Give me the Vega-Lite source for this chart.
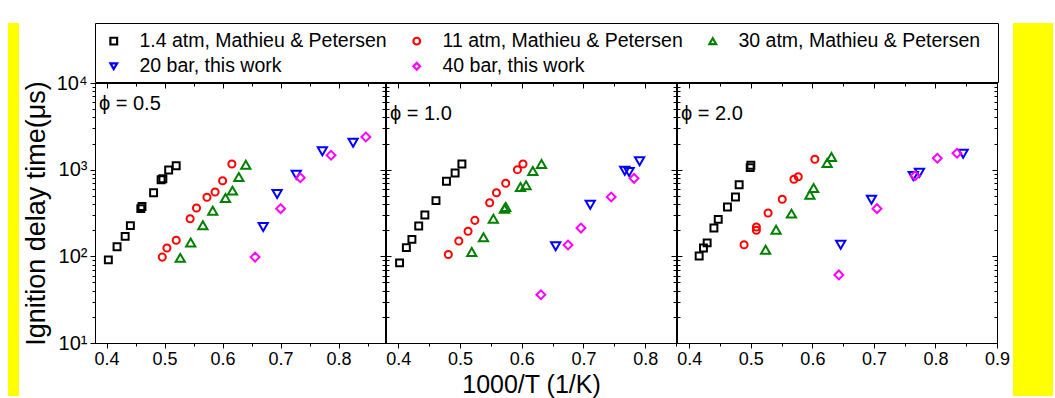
{
  "$schema": "https://vega.github.io/schema/vega-lite/v6.json",
  "background": "white",
  "padding": {"left": 8, "top": 22, "right": 0, "bottom": 0},
  "datasets": {
    "pts": [
      {"p": "0.5", "s": "1.4 atm, Mathieu & Petersen", "x": 0.403, "y": 91},
      {"p": "0.5", "s": "1.4 atm, Mathieu & Petersen", "x": 0.418, "y": 129},
      {"p": "0.5", "s": "1.4 atm, Mathieu & Petersen", "x": 0.432, "y": 170},
      {"p": "0.5", "s": "1.4 atm, Mathieu & Petersen", "x": 0.441, "y": 226},
      {"p": "0.5", "s": "1.4 atm, Mathieu & Petersen", "x": 0.459, "y": 355},
      {"p": "0.5", "s": "1.4 atm, Mathieu & Petersen", "x": 0.461, "y": 375},
      {"p": "0.5", "s": "1.4 atm, Mathieu & Petersen", "x": 0.481, "y": 542},
      {"p": "0.5", "s": "1.4 atm, Mathieu & Petersen", "x": 0.494, "y": 765},
      {"p": "0.5", "s": "1.4 atm, Mathieu & Petersen", "x": 0.497, "y": 787},
      {"p": "0.5", "s": "1.4 atm, Mathieu & Petersen", "x": 0.507, "y": 991},
      {"p": "0.5", "s": "1.4 atm, Mathieu & Petersen", "x": 0.520, "y": 1112},
      {"p": "0.5", "s": "11 atm, Mathieu & Petersen", "x": 0.496, "y": 98},
      {"p": "0.5", "s": "11 atm, Mathieu & Petersen", "x": 0.504, "y": 125},
      {"p": "0.5", "s": "11 atm, Mathieu & Petersen", "x": 0.520, "y": 153},
      {"p": "0.5", "s": "11 atm, Mathieu & Petersen", "x": 0.544, "y": 272},
      {"p": "0.5", "s": "11 atm, Mathieu & Petersen", "x": 0.555, "y": 361},
      {"p": "0.5", "s": "11 atm, Mathieu & Petersen", "x": 0.573, "y": 480},
      {"p": "0.5", "s": "11 atm, Mathieu & Petersen", "x": 0.587, "y": 552},
      {"p": "0.5", "s": "11 atm, Mathieu & Petersen", "x": 0.600, "y": 746},
      {"p": "0.5", "s": "11 atm, Mathieu & Petersen", "x": 0.616, "y": 1161},
      {"p": "0.5", "s": "30 atm, Mathieu & Petersen", "x": 0.527, "y": 96},
      {"p": "0.5", "s": "30 atm, Mathieu & Petersen", "x": 0.545, "y": 144},
      {"p": "0.5", "s": "30 atm, Mathieu & Petersen", "x": 0.566, "y": 228},
      {"p": "0.5", "s": "30 atm, Mathieu & Petersen", "x": 0.583, "y": 336},
      {"p": "0.5", "s": "30 atm, Mathieu & Petersen", "x": 0.605, "y": 471},
      {"p": "0.5", "s": "30 atm, Mathieu & Petersen", "x": 0.617, "y": 573},
      {"p": "0.5", "s": "30 atm, Mathieu & Petersen", "x": 0.628, "y": 822},
      {"p": "0.5", "s": "30 atm, Mathieu & Petersen", "x": 0.640, "y": 1141},
      {"p": "0.5", "s": "20 bar, this work", "x": 0.670, "y": 218},
      {"p": "0.5", "s": "20 bar, this work", "x": 0.694, "y": 524},
      {"p": "0.5", "s": "20 bar, this work", "x": 0.727, "y": 875},
      {"p": "0.5", "s": "20 bar, this work", "x": 0.772, "y": 1629},
      {"p": "0.5", "s": "20 bar, this work", "x": 0.825, "y": 2045},
      {"p": "0.5", "s": "40 bar, this work", "x": 0.656, "y": 98},
      {"p": "0.5", "s": "40 bar, this work", "x": 0.700, "y": 355},
      {"p": "0.5", "s": "40 bar, this work", "x": 0.734, "y": 807},
      {"p": "0.5", "s": "40 bar, this work", "x": 0.787, "y": 1466},
      {"p": "0.5", "s": "40 bar, this work", "x": 0.847, "y": 2384},
      {"p": "1.0", "s": "1.4 atm, Mathieu & Petersen", "x": 0.402, "y": 84},
      {"p": "1.0", "s": "1.4 atm, Mathieu & Petersen", "x": 0.413, "y": 126},
      {"p": "1.0", "s": "1.4 atm, Mathieu & Petersen", "x": 0.422, "y": 157},
      {"p": "1.0", "s": "1.4 atm, Mathieu & Petersen", "x": 0.433, "y": 224},
      {"p": "1.0", "s": "1.4 atm, Mathieu & Petersen", "x": 0.443, "y": 300},
      {"p": "1.0", "s": "1.4 atm, Mathieu & Petersen", "x": 0.461, "y": 439},
      {"p": "1.0", "s": "1.4 atm, Mathieu & Petersen", "x": 0.478, "y": 734},
      {"p": "1.0", "s": "1.4 atm, Mathieu & Petersen", "x": 0.492, "y": 916},
      {"p": "1.0", "s": "1.4 atm, Mathieu & Petersen", "x": 0.503, "y": 1161},
      {"p": "1.0", "s": "11 atm, Mathieu & Petersen", "x": 0.481, "y": 105},
      {"p": "1.0", "s": "11 atm, Mathieu & Petersen", "x": 0.498, "y": 150},
      {"p": "1.0", "s": "11 atm, Mathieu & Petersen", "x": 0.513, "y": 195},
      {"p": "1.0", "s": "11 atm, Mathieu & Petersen", "x": 0.524, "y": 260},
      {"p": "1.0", "s": "11 atm, Mathieu & Petersen", "x": 0.548, "y": 416},
      {"p": "1.0", "s": "11 atm, Mathieu & Petersen", "x": 0.559, "y": 542},
      {"p": "1.0", "s": "11 atm, Mathieu & Petersen", "x": 0.574, "y": 697},
      {"p": "1.0", "s": "11 atm, Mathieu & Petersen", "x": 0.593, "y": 1000},
      {"p": "1.0", "s": "11 atm, Mathieu & Petersen", "x": 0.602, "y": 1161},
      {"p": "1.0", "s": "30 atm, Mathieu & Petersen", "x": 0.519, "y": 112},
      {"p": "1.0", "s": "30 atm, Mathieu & Petersen", "x": 0.538, "y": 166},
      {"p": "1.0", "s": "30 atm, Mathieu & Petersen", "x": 0.554, "y": 272},
      {"p": "1.0", "s": "30 atm, Mathieu & Petersen", "x": 0.572, "y": 355},
      {"p": "1.0", "s": "30 atm, Mathieu & Petersen", "x": 0.574, "y": 372},
      {"p": "1.0", "s": "30 atm, Mathieu & Petersen", "x": 0.598, "y": 631},
      {"p": "1.0", "s": "30 atm, Mathieu & Petersen", "x": 0.607, "y": 660},
      {"p": "1.0", "s": "30 atm, Mathieu & Petersen", "x": 0.618, "y": 966},
      {"p": "1.0", "s": "30 atm, Mathieu & Petersen", "x": 0.632, "y": 1161},
      {"p": "1.0", "s": "20 bar, this work", "x": 0.655, "y": 131},
      {"p": "1.0", "s": "20 bar, this work", "x": 0.711, "y": 394},
      {"p": "1.0", "s": "20 bar, this work", "x": 0.767, "y": 973},
      {"p": "1.0", "s": "20 bar, this work", "x": 0.774, "y": 940},
      {"p": "1.0", "s": "20 bar, this work", "x": 0.791, "y": 1248},
      {"p": "1.0", "s": "40 bar, this work", "x": 0.631, "y": 36},
      {"p": "1.0", "s": "40 bar, this work", "x": 0.675, "y": 135},
      {"p": "1.0", "s": "40 bar, this work", "x": 0.696, "y": 212},
      {"p": "1.0", "s": "40 bar, this work", "x": 0.745, "y": 484},
      {"p": "1.0", "s": "40 bar, this work", "x": 0.782, "y": 794},
      {"p": "2.0", "s": "1.4 atm, Mathieu & Petersen", "x": 0.416, "y": 101},
      {"p": "2.0", "s": "1.4 atm, Mathieu & Petersen", "x": 0.423, "y": 125},
      {"p": "2.0", "s": "1.4 atm, Mathieu & Petersen", "x": 0.429, "y": 143},
      {"p": "2.0", "s": "1.4 atm, Mathieu & Petersen", "x": 0.440, "y": 212},
      {"p": "2.0", "s": "1.4 atm, Mathieu & Petersen", "x": 0.447, "y": 267},
      {"p": "2.0", "s": "1.4 atm, Mathieu & Petersen", "x": 0.462, "y": 371},
      {"p": "2.0", "s": "1.4 atm, Mathieu & Petersen", "x": 0.475, "y": 484},
      {"p": "2.0", "s": "1.4 atm, Mathieu & Petersen", "x": 0.481, "y": 671},
      {"p": "2.0", "s": "1.4 atm, Mathieu & Petersen", "x": 0.499, "y": 1055},
      {"p": "2.0", "s": "1.4 atm, Mathieu & Petersen", "x": 0.500, "y": 1122},
      {"p": "2.0", "s": "11 atm, Mathieu & Petersen", "x": 0.489, "y": 136},
      {"p": "2.0", "s": "11 atm, Mathieu & Petersen", "x": 0.509, "y": 200},
      {"p": "2.0", "s": "11 atm, Mathieu & Petersen", "x": 0.509, "y": 218},
      {"p": "2.0", "s": "11 atm, Mathieu & Petersen", "x": 0.528, "y": 316},
      {"p": "2.0", "s": "11 atm, Mathieu & Petersen", "x": 0.551, "y": 455},
      {"p": "2.0", "s": "11 atm, Mathieu & Petersen", "x": 0.570, "y": 774},
      {"p": "2.0", "s": "11 atm, Mathieu & Petersen", "x": 0.577, "y": 830},
      {"p": "2.0", "s": "11 atm, Mathieu & Petersen", "x": 0.604, "y": 1318},
      {"p": "2.0", "s": "30 atm, Mathieu & Petersen", "x": 0.524, "y": 119},
      {"p": "2.0", "s": "30 atm, Mathieu & Petersen", "x": 0.541, "y": 203},
      {"p": "2.0", "s": "30 atm, Mathieu & Petersen", "x": 0.566, "y": 311},
      {"p": "2.0", "s": "30 atm, Mathieu & Petersen", "x": 0.596, "y": 514},
      {"p": "2.0", "s": "30 atm, Mathieu & Petersen", "x": 0.602, "y": 614},
      {"p": "2.0", "s": "30 atm, Mathieu & Petersen", "x": 0.624, "y": 1194},
      {"p": "2.0", "s": "30 atm, Mathieu & Petersen", "x": 0.631, "y": 1400},
      {"p": "2.0", "s": "20 bar, this work", "x": 0.646, "y": 136},
      {"p": "2.0", "s": "20 bar, this work", "x": 0.696, "y": 450},
      {"p": "2.0", "s": "20 bar, this work", "x": 0.764, "y": 845},
      {"p": "2.0", "s": "20 bar, this work", "x": 0.774, "y": 922},
      {"p": "2.0", "s": "20 bar, this work", "x": 0.845, "y": 1527},
      {"p": "2.0", "s": "40 bar, this work", "x": 0.643, "y": 61},
      {"p": "2.0", "s": "40 bar, this work", "x": 0.705, "y": 355},
      {"p": "2.0", "s": "40 bar, this work", "x": 0.767, "y": 851},
      {"p": "2.0", "s": "40 bar, this work", "x": 0.803, "y": 1353},
      {"p": "2.0", "s": "40 bar, this work", "x": 0.835, "y": 1545}
    ]
  },
  "spacing": 2,
  "hconcat": [
    {
      "data": {"values": []},
      "mark": "point",
      "encoding": {},
      "width": 11,
      "height": 373,
      "view": {"fill": "#ffff00", "stroke": null}
    },
    {
      "spacing": -13,
      "resolve": {"legend": {"color": "independent", "shape": "independent"}},
      "vconcat": [
        {
          "data": {"name": "pts"},
          "width": 903,
          "height": 59,
          "view": {"stroke": "black", "strokeWidth": 1, "fill": "white"},
          "mark": {"type": "point", "filled": false, "opacity": 0, "size": 40, "strokeWidth": 2},
          "encoding": {
            "color": {
              "field": "s", "type": "nominal",
              "scale": {"domain": ["1.4 atm, Mathieu & Petersen", "11 atm, Mathieu & Petersen", "30 atm, Mathieu & Petersen", "20 bar, this work", "40 bar, this work"], "range": ["#000000", "#ff0000", "#008000", "#0000ff", "#ff00ff"]},
              "legend": {"orient": "none", "legendX": 9, "legendY": 8, "direction": "horizontal", "columns": 3, "title": null, "padding": 0, "symbolSize": 45, "symbolStrokeWidth": 2.2, "symbolFillColor": "transparent", "labelFontSize": 19.5, "labelOffset": 16, "labelLimit": 400, "columnPadding": 20, "rowPadding": 4.5, "labelColor": "black"}
            },
            "shape": {
              "field": "s", "type": "nominal",
              "scale": {"domain": ["1.4 atm, Mathieu & Petersen", "11 atm, Mathieu & Petersen", "30 atm, Mathieu & Petersen", "20 bar, this work", "40 bar, this work"], "range": ["square", "circle", "triangle-up", "triangle-down", "diamond"]},
              "legend": {"orient": "none", "legendX": 9, "legendY": 8, "direction": "horizontal", "columns": 3, "title": null, "padding": 0, "symbolSize": 45, "symbolStrokeWidth": 2.2, "symbolFillColor": "transparent", "labelFontSize": 19.5, "labelOffset": 16, "labelLimit": 400, "columnPadding": 20, "rowPadding": 4.5, "labelColor": "black"}
            }
          }
        },
        {
          "spacing": -1,
          "resolve": {"scale": {"x": "independent"}},
          "hconcat": [
            {
              "width": 290, "height": 260,
              "title": {"text": "ϕ = 0.5", "frame": "group", "anchor": "start", "offset": -41, "dx": 4, "fontSize": 20, "fontWeight": "normal", "color": "black"},
              "data": {"name": "pts"},
              "transform": [{"filter": "datum.p == '0.5'"}],
              "resolve": {"axis": {"x": "independent", "y": "independent"}},
              "layer": [
                {
                  "mark": {"type": "point", "filled": false, "strokeWidth": 2, "opacity": 1},
                  "encoding": {
                    "x": {"field": "x", "type": "quantitative", "scale": {"domain": [0.38, 0.88], "nice": false, "zero": false},
                      "axis": {"orient": "bottom", "values": [0.4, 0.5, 0.6, 0.7, 0.8], "format": ".1f", "tickSize": 5, "labelFontSize": 18, "labelPadding": 2, "title": null}},
                    "y": {"field": "y", "type": "quantitative", "scale": {"type": "log", "domain": [10, 10000], "nice": false},
                      "axis": {"orient": "left", "values": [10, 100, 1000, 10000], "tickSize": 5, "labelExpr": "datum.value == 10 ? '10¹' : datum.value == 100 ? '10²' : datum.value == 1000 ? '10³' : '10⁴'", "labelFontSize": 20, "labelPadding": 3, "title": "Ignition delay time(μs)", "titleFontSize": 27, "titlePadding": 6}},
                    "color": {"field": "s", "type": "nominal", "scale": {"domain": ["1.4 atm, Mathieu & Petersen", "11 atm, Mathieu & Petersen", "30 atm, Mathieu & Petersen", "20 bar, this work", "40 bar, this work"], "range": ["#000000", "#ff0000", "#008000", "#0000ff", "#ff00ff"]}, "legend": null},
                    "shape": {"field": "s", "type": "nominal", "scale": {"domain": ["1.4 atm, Mathieu & Petersen", "11 atm, Mathieu & Petersen", "30 atm, Mathieu & Petersen", "20 bar, this work", "40 bar, this work"], "range": ["square", "circle", "triangle-up", "triangle-down", "diamond"]}, "legend": null},
                    "size": {"condition": [{"test": "datum.s == '30 atm, Mathieu & Petersen' || datum.s == '20 bar, this work'", "value": 85}, {"test": "datum.s == '40 bar, this work'", "value": 78}, {"test": "datum.s == '11 atm, Mathieu & Petersen'", "value": 50}], "value": 48}
                  }
                },
                {
                  "mark": {"type": "point", "opacity": 0},
                  "encoding": {
                    "x": {"field": "x", "type": "quantitative", "axis": {"orient": "bottom", "values": [0.45, 0.55, 0.65, 0.75, 0.85], "tickSize": 3, "labels": false, "domain": false, "title": null}},
                    "y": {"field": "y", "type": "quantitative", "axis": {"orient": "left", "values": [20, 30, 40, 50, 60, 70, 80, 90, 200, 300, 400, 500, 600, 700, 800, 900, 2000, 3000, 4000, 5000, 6000, 7000, 8000, 9000], "tickSize": 3, "labels": false, "domain": false, "title": null}}
                  }
                },
                {
                  "mark": {"type": "point", "opacity": 0},
                  "encoding": {
                    "x": {"field": "x", "type": "quantitative", "axis": {"orient": "top", "values": [0.4, 0.5, 0.6, 0.7, 0.8], "tickSize": -5, "labels": false, "title": null}},
                    "y": {"field": "y", "type": "quantitative", "axis": {"orient": "right", "values": [10, 100, 1000, 10000], "tickSize": -5, "labels": false, "title": null}}
                  }
                },
                {
                  "mark": {"type": "point", "opacity": 0},
                  "encoding": {
                    "x": {"field": "x", "type": "quantitative", "axis": {"orient": "top", "values": [0.45, 0.55, 0.65, 0.75, 0.85], "tickSize": -3, "labels": false, "domain": false, "title": null}},
                    "y": {"field": "y", "type": "quantitative", "axis": {"orient": "right", "values": [20, 30, 40, 50, 60, 70, 80, 90, 200, 300, 400, 500, 600, 700, 800, 900, 2000, 3000, 4000, 5000, 6000, 7000, 8000, 9000], "tickSize": -3, "labels": false, "domain": false, "title": null}}
                  }
                }
              ]
            },
            {
              "width": 290, "height": 260,
              "title": {"text": "ϕ = 1.0", "frame": "group", "anchor": "start", "offset": -41, "dx": 4, "fontSize": 20, "fontWeight": "normal", "color": "black"},
              "data": {"name": "pts"},
              "transform": [{"filter": "datum.p == '1.0'"}],
              "resolve": {"axis": {"x": "independent", "y": "independent"}},
              "layer": [
                {
                  "mark": {"type": "point", "filled": false, "strokeWidth": 2, "opacity": 1},
                  "encoding": {
                    "x": {"field": "x", "type": "quantitative", "scale": {"domain": [0.38, 0.85], "nice": false, "zero": false},
                      "axis": {"orient": "bottom", "values": [0.4, 0.5, 0.6, 0.7, 0.8], "format": ".1f", "tickSize": 5, "labelFontSize": 18, "labelPadding": 2, "title": "1000/T (1/K)", "titleFontSize": 25, "titlePadding": 4}},
                    "y": {"field": "y", "type": "quantitative", "scale": {"type": "log", "domain": [10, 10000], "nice": false},
                      "axis": {"orient": "left", "values": [10, 100, 1000, 10000], "tickSize": -5, "labels": false, "title": null}},
                    "color": {"field": "s", "type": "nominal", "scale": {"domain": ["1.4 atm, Mathieu & Petersen", "11 atm, Mathieu & Petersen", "30 atm, Mathieu & Petersen", "20 bar, this work", "40 bar, this work"], "range": ["#000000", "#ff0000", "#008000", "#0000ff", "#ff00ff"]}, "legend": null},
                    "shape": {"field": "s", "type": "nominal", "scale": {"domain": ["1.4 atm, Mathieu & Petersen", "11 atm, Mathieu & Petersen", "30 atm, Mathieu & Petersen", "20 bar, this work", "40 bar, this work"], "range": ["square", "circle", "triangle-up", "triangle-down", "diamond"]}, "legend": null},
                    "size": {"condition": [{"test": "datum.s == '30 atm, Mathieu & Petersen' || datum.s == '20 bar, this work'", "value": 85}, {"test": "datum.s == '40 bar, this work'", "value": 78}, {"test": "datum.s == '11 atm, Mathieu & Petersen'", "value": 50}], "value": 48}
                  }
                },
                {
                  "mark": {"type": "point", "opacity": 0},
                  "encoding": {
                    "x": {"field": "x", "type": "quantitative", "axis": {"orient": "bottom", "values": [0.45, 0.55, 0.65, 0.75, 0.85], "tickSize": 3, "labels": false, "domain": false, "title": null}},
                    "y": {"field": "y", "type": "quantitative", "axis": {"orient": "left", "values": [20, 30, 40, 50, 60, 70, 80, 90, 200, 300, 400, 500, 600, 700, 800, 900, 2000, 3000, 4000, 5000, 6000, 7000, 8000, 9000], "tickSize": -3, "labels": false, "domain": false, "title": null}}
                  }
                },
                {
                  "mark": {"type": "point", "opacity": 0},
                  "encoding": {
                    "x": {"field": "x", "type": "quantitative", "axis": {"orient": "top", "values": [0.4, 0.5, 0.6, 0.7, 0.8], "tickSize": -5, "labels": false, "title": null}},
                    "y": {"field": "y", "type": "quantitative", "axis": {"orient": "right", "values": [10, 100, 1000, 10000], "tickSize": -5, "labels": false, "title": null}}
                  }
                },
                {
                  "mark": {"type": "point", "opacity": 0},
                  "encoding": {
                    "x": {"field": "x", "type": "quantitative", "axis": {"orient": "top", "values": [0.45, 0.55, 0.65, 0.75, 0.85], "tickSize": -3, "labels": false, "domain": false, "title": null}},
                    "y": {"field": "y", "type": "quantitative", "axis": {"orient": "right", "values": [20, 30, 40, 50, 60, 70, 80, 90, 200, 300, 400, 500, 600, 700, 800, 900, 2000, 3000, 4000, 5000, 6000, 7000, 8000, 9000], "tickSize": -3, "labels": false, "domain": false, "title": null}}
                  }
                }
              ]
            },
            {
              "width": 320, "height": 260,
              "title": {"text": "ϕ = 2.0", "frame": "group", "anchor": "start", "offset": -41, "dx": 4, "fontSize": 20, "fontWeight": "normal", "color": "black"},
              "data": {"name": "pts"},
              "transform": [{"filter": "datum.p == '2.0'"}],
              "resolve": {"axis": {"x": "independent", "y": "independent"}},
              "layer": [
                {
                  "mark": {"type": "point", "filled": false, "strokeWidth": 2, "opacity": 1},
                  "encoding": {
                    "x": {"field": "x", "type": "quantitative", "scale": {"domain": [0.38, 0.9], "nice": false, "zero": false},
                      "axis": {"orient": "bottom", "values": [0.4, 0.5, 0.6, 0.7, 0.8, 0.9], "format": ".1f", "tickSize": 5, "labelFontSize": 18, "labelPadding": 2, "title": null}},
                    "y": {"field": "y", "type": "quantitative", "scale": {"type": "log", "domain": [10, 10000], "nice": false},
                      "axis": {"orient": "left", "values": [10, 100, 1000, 10000], "tickSize": -5, "labels": false, "title": null}},
                    "color": {"field": "s", "type": "nominal", "scale": {"domain": ["1.4 atm, Mathieu & Petersen", "11 atm, Mathieu & Petersen", "30 atm, Mathieu & Petersen", "20 bar, this work", "40 bar, this work"], "range": ["#000000", "#ff0000", "#008000", "#0000ff", "#ff00ff"]}, "legend": null},
                    "shape": {"field": "s", "type": "nominal", "scale": {"domain": ["1.4 atm, Mathieu & Petersen", "11 atm, Mathieu & Petersen", "30 atm, Mathieu & Petersen", "20 bar, this work", "40 bar, this work"], "range": ["square", "circle", "triangle-up", "triangle-down", "diamond"]}, "legend": null},
                    "size": {"condition": [{"test": "datum.s == '30 atm, Mathieu & Petersen' || datum.s == '20 bar, this work'", "value": 85}, {"test": "datum.s == '40 bar, this work'", "value": 78}, {"test": "datum.s == '11 atm, Mathieu & Petersen'", "value": 50}], "value": 48}
                  }
                },
                {
                  "mark": {"type": "point", "opacity": 0},
                  "encoding": {
                    "x": {"field": "x", "type": "quantitative", "axis": {"orient": "bottom", "values": [0.45, 0.55, 0.65, 0.75, 0.85], "tickSize": 3, "labels": false, "domain": false, "title": null}},
                    "y": {"field": "y", "type": "quantitative", "axis": {"orient": "left", "values": [20, 30, 40, 50, 60, 70, 80, 90, 200, 300, 400, 500, 600, 700, 800, 900, 2000, 3000, 4000, 5000, 6000, 7000, 8000, 9000], "tickSize": -3, "labels": false, "domain": false, "title": null}}
                  }
                },
                {
                  "mark": {"type": "point", "opacity": 0},
                  "encoding": {
                    "x": {"field": "x", "type": "quantitative", "axis": {"orient": "top", "values": [0.4, 0.5, 0.6, 0.7, 0.8, 0.9], "tickSize": -5, "labels": false, "title": null}},
                    "y": {"field": "y", "type": "quantitative", "axis": {"orient": "right", "values": [10, 100, 1000, 10000], "tickSize": -5, "labels": false, "title": null}}
                  }
                },
                {
                  "mark": {"type": "point", "opacity": 0},
                  "encoding": {
                    "x": {"field": "x", "type": "quantitative", "axis": {"orient": "top", "values": [0.45, 0.55, 0.65, 0.75, 0.85], "tickSize": -3, "labels": false, "domain": false, "title": null}},
                    "y": {"field": "y", "type": "quantitative", "axis": {"orient": "right", "values": [20, 30, 40, 50, 60, 70, 80, 90, 200, 300, 400, 500, 600, 700, 800, 900, 2000, 3000, 4000, 5000, 6000, 7000, 8000, 9000], "tickSize": -3, "labels": false, "domain": false, "title": null}}
                  }
                }
              ]
            }
          ]
        }
      ]
    },
    {
      "data": {"values": []},
      "mark": "point",
      "encoding": {},
      "width": 40,
      "height": 373,
      "view": {"fill": "#ffff00", "stroke": null}
    }
  ],
  "config": {
    "font": "Liberation Sans",
    "view": {"stroke": "black", "strokeWidth": 1},
    "axis": {"domainColor": "black", "tickColor": "black", "labelColor": "black", "titleColor": "black", "grid": false, "tickWidth": 1, "domainWidth": 1, "titleFontWeight": "normal", "labelFlush": false, "labelOverlap": false},
    "legend": {"labelFont": "Liberation Sans"},
    "title": {"font": "Liberation Sans"}
  }
}
